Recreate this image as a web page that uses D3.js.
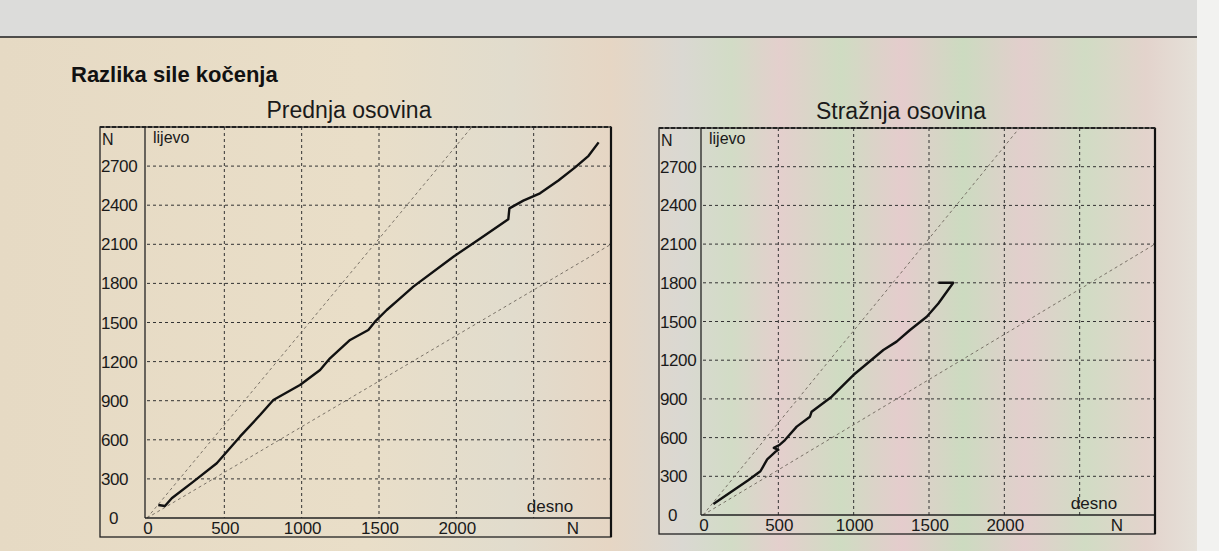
<!DOCTYPE html>
<html>
<head>
<meta charset="utf-8">
<script src="https://cdn.jsdelivr.net/npm/d3@7"></script>
<style>
  body { margin: 0; padding: 0; overflow: hidden; }
  svg { display: block; font-family: "Liberation Sans", Arial, sans-serif; }
</style>
</head>
<body>
<script>
// Front axle curve (N, desno vs lijevo)
const frontX = [73, 116, 160, 300, 451, 601, 731, 817, 989, 1119, 1183, 1313, 1431, 1474, 1550, 1625, 1722, 1981, 2150, 2336, 2343, 2433, 2541, 2660, 2768, 2855, 2920];
const frontY = [100, 92, 151, 279, 420, 624, 790, 905, 1020, 1136, 1225, 1366, 1442, 1506, 1596, 1673, 1775, 2005, 2140, 2292, 2376, 2435, 2491, 2590, 2690, 2779, 2882];

// Rear axle curve
const rearX = [69, 200, 300, 381, 426, 480, 500, 470, 510, 544, 622, 710, 721, 854, 998, 1197, 1285, 1374, 1485, 1562, 1661, 1562];
const rearY = [86, 190, 270, 339, 431, 490, 505, 520, 545, 581, 685, 762, 801, 917, 1085, 1279, 1344, 1434, 1537, 1640, 1800, 1800];

// reference limit lines (30 % difference)
const refSteepX = [0, 2100], refSteepY = [0, 3000];
const refFlatX = [0, 3000], refFlatY = [0, 2100];

const yTicks = [0, 300, 600, 900, 1200, 1500, 1800, 2100, 2400, 2700];
const xTicks = [0, 500, 1000, 1500, 2000];
const xGrid = [500, 1000, 1500, 2000, 2500];
const yGrid = [300, 600, 900, 1200, 1500, 1800, 2100, 2400, 2700];

const W = 1219, H = 551;
const svg = d3.select("body").append("svg").attr("width", W).attr("height", H);

// background (photo of a screen, warm on left, pastel bands on right)
const defs = svg.append("defs");
const grad = defs.append("linearGradient").attr("id", "bg").attr("x1", 0).attr("x2", 1).attr("y1", 0).attr("y2", 0);
[[0, "#e6dac4"], [0.3, "#e9dec8"], [0.42, "#e1dccd"], [0.5, "#e6d6c4"], [0.56, "#dad8d2"],
 [0.6, "#d2dcc6"], [0.64, "#e4cfcd"], [0.69, "#cfdcc2"], [0.74, "#e5cccd"], [0.79, "#ccdbc0"],
 [0.84, "#e3cecd"], [0.89, "#d1dcc4"], [0.94, "#e3d3cc"], [0.98, "#e5e0d8"], [1, "#f1f1ef"]]
  .forEach(s => grad.append("stop").attr("offset", s[0]).attr("stop-color", s[1]));

svg.append("rect").attr("width", W).attr("height", H).attr("fill", "url(#bg)");
svg.append("rect").attr("width", W).attr("height", 37).attr("fill", "#dcdcda");
svg.append("rect").attr("x", 1197).attr("width", W - 1197).attr("height", H).attr("fill", "#f2f2f0");
svg.append("line").attr("x1", 0).attr("x2", 1197).attr("y1", 37).attr("y2", 37)
  .attr("stroke", "#1e1e1e").attr("stroke-width", 1.5);

svg.append("text").attr("x", 71).attr("y", 82)
  .attr("font-size", 22).attr("font-weight", "bold").attr("fill", "#111")
  .text("Razlika sile kočenja");

function panel(opt, xs, ys) {
  const g = svg.append("g");
  const x = d3.scaleLinear().domain([0, 3000]).range([opt.left, opt.right]);
  const y = d3.scaleLinear().domain([0, 3000]).range([opt.bottom, opt.top]);

  g.append("text").attr("x", opt.titleX).attr("y", opt.top - 9)
    .attr("text-anchor", "middle").attr("font-size", 23).attr("fill", "#1a1a1a")
    .text(opt.title);

  // outer frame
  g.append("rect").attr("x", opt.outerLeft).attr("y", opt.top)
    .attr("width", opt.right - opt.outerLeft).attr("height", opt.outerBottom - opt.top)
    .attr("fill", "none").attr("stroke", "#222").attr("stroke-width", 1.3);

  // grid
  g.selectAll(".gx").data(xGrid).join("line")
    .attr("x1", d => x(d)).attr("x2", d => x(d)).attr("y1", opt.top).attr("y2", opt.bottom)
    .attr("stroke", "#333").attr("stroke-width", 1).attr("stroke-dasharray", "3,3");
  g.selectAll(".gy").data(yGrid).join("line")
    .attr("x1", opt.left).attr("x2", opt.right).attr("y1", d => y(d)).attr("y2", d => y(d))
    .attr("stroke", "#333").attr("stroke-width", 1).attr("stroke-dasharray", "3,3");

  // reference lines
  const refLine = d3.line().x(d => x(d[0])).y(d => y(d[1]));
  [[refSteepX, refSteepY], [refFlatX, refFlatY]].forEach(r => {
    g.append("path").attr("d", refLine(d3.zip(r[0], r[1])))
      .attr("fill", "none").attr("stroke", "#6e665c").attr("stroke-width", 0.9)
      .attr("stroke-dasharray", "3,3");
  });

  // plot frame
  g.append("line").attr("x1", opt.left - 2).attr("x2", opt.left - 2).attr("y1", opt.top).attr("y2", opt.bottom)
    .attr("stroke", "#222").attr("stroke-width", 1.3);
  g.append("line").attr("x1", opt.left - 2).attr("x2", opt.right).attr("y1", opt.bottom).attr("y2", opt.bottom)
    .attr("stroke", "#222").attr("stroke-width", 1.3);
  g.append("line").attr("x1", opt.right).attr("x2", opt.right).attr("y1", opt.top).attr("y2", opt.outerBottom)
    .attr("stroke", "#111").attr("stroke-width", 2.2);
  g.append("line").attr("x1", opt.outerLeft).attr("x2", opt.right).attr("y1", opt.top).attr("y2", opt.top)
    .attr("stroke", "#222").attr("stroke-width", 1.8).attr("stroke-dasharray", "4,2");

  // data curve
  const line = d3.line().x(d => x(d[0])).y(d => y(d[1]));
  g.append("path").attr("d", line(d3.zip(xs, ys)))
    .attr("fill", "none").attr("stroke", "#111").attr("stroke-width", 2.4)
    .attr("stroke-linejoin", "round");

  // y tick labels
  g.selectAll(".ty").data(yTicks).join("text")
    .attr("x", d => d === 0 ? opt.outerLeft + 9 : opt.outerLeft + 1)
    .attr("y", d => y(d) + 6)
    .attr("font-size", 17).attr("fill", "#1a1a1a").attr("letter-spacing", -0.4)
    .text(d => d);
  // x tick labels
  g.selectAll(".tx").data(xTicks).join("text")
    .attr("x", d => x(d) + 1).attr("y", opt.outerBottom - 3)
    .attr("text-anchor", "middle").attr("font-size", 17).attr("fill", "#1a1a1a")
    .text(d => d);

  g.append("text").attr("x", opt.outerLeft + 2).attr("y", opt.top + 18)
    .attr("font-size", 16).attr("fill", "#1a1a1a").text("N");
  g.append("text").attr("x", opt.right - 38).attr("y", opt.outerBottom - 3)
    .attr("text-anchor", "middle").attr("font-size", 17).attr("fill", "#1a1a1a").text("N");
  g.append("text").attr("x", opt.left + 6).attr("y", opt.top + 16)
    .attr("font-size", 16).attr("fill", "#1a1a1a").text("lijevo");
  g.append("text").attr("x", opt.right - 61).attr("y", opt.bottom - 6)
    .attr("text-anchor", "middle").attr("font-size", 17).attr("fill", "#1a1a1a").text("desno");
}

panel({ title: "Prednja osovina", titleX: 349, outerLeft: 100, left: 147, right: 611, top: 127, bottom: 518, outerBottom: 537 }, frontX, frontY);
panel({ title: "Stražnja osovina", titleX: 901, outerLeft: 659, left: 703, right: 1155, top: 128, bottom: 515, outerBottom: 534 }, rearX, rearY);
</script>
</body>
</html>
